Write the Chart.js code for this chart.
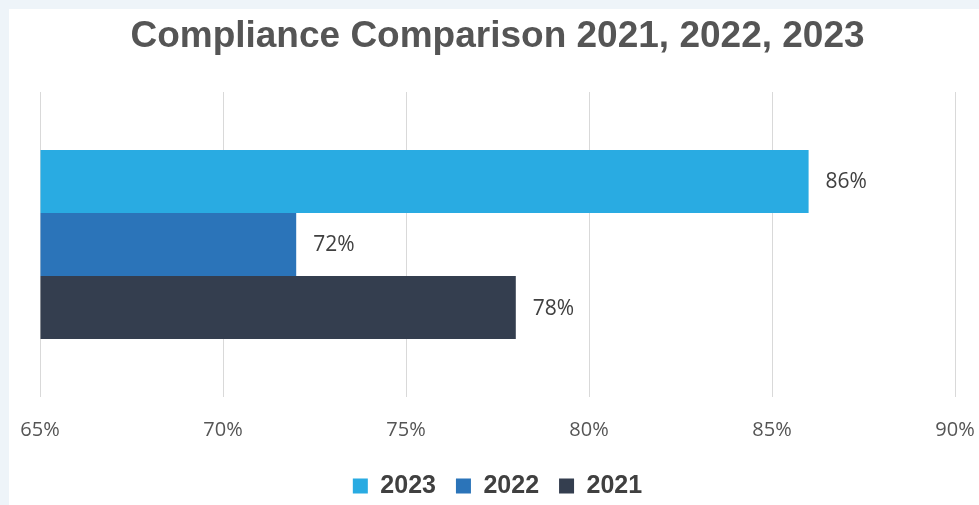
<!DOCTYPE html>
<html>
<head>
<meta charset="utf-8">
<script src="https://cdn.jsdelivr.net/npm/chart.js@4.4.1/dist/chart.umd.min.js"></script>
<style>
  html, body { margin: 0; padding: 0; width: 979px; height: 505px; overflow: hidden; background: #eef4f9; }
  #card { position: absolute; left: 9px; top: 9px; right: 0; bottom: 0; background: #ffffff; }
  #wrap { position: absolute; left: 0; top: 0; width: 979px; height: 505px; }
</style>
</head>
<body>
<div id="card"></div>
<div id="wrap"><canvas id="chart" width="979" height="505"></canvas></div>
<script>
// Compliance rates per year (percent)
const categories = ['Compliance'];
const seriesNames = ['2023', '2022', '2021'];
const values2023 = [86];
const values2022 = [72];
const values2021 = [78];
const tickMin = 65;
const tickMax = 90;
const tickStep = 5;

const colors = ['#29abe2', '#2b74b9', '#343e4f'];

// Writes each bar's value just past its end
const valueLabels = {
  id: 'valueLabels',
  afterDatasetsDraw(chart) {
    const ctx = chart.ctx;
    ctx.save();
    ctx.font = '21px "Open Sans", sans-serif';
    ctx.fillStyle = '#404040';
    ctx.textAlign = 'left';
    ctx.textBaseline = 'middle';
    chart.data.datasets.forEach((ds, i) => {
      const meta = chart.getDatasetMeta(i);
      meta.data.forEach((bar, j) => {
        ctx.fillText(ds.data[j] + '%', bar.x + 17, bar.y + 1);
      });
    });
    ctx.restore();
  }
};

new Chart(document.getElementById('chart'), {
  type: 'bar',
  data: {
    labels: categories,
    datasets: [
      { label: seriesNames[0], data: values2023, backgroundColor: colors[0] },
      { label: seriesNames[1], data: values2022, backgroundColor: colors[1] },
      { label: seriesNames[2], data: values2021, backgroundColor: colors[2] }
    ]
  },
  options: {
    indexAxis: 'y',
    responsive: false,
    animation: false,
    base: tickMin,
    categoryPercentage: 0.62,
    barPercentage: 1.0,
    layout: { padding: { left: 40, right: 24, top: 0, bottom: -3.5 } },
    scales: {
      x: {
        min: tickMin,
        max: tickMax,
        border: { display: false },
        grid: { color: '#d9d9d9', lineWidth: 1, drawTicks: false },
        ticks: {
          stepSize: tickStep,
          padding: 21,
          color: '#555555',
          font: { family: '"Open Sans", sans-serif', size: 20 },
          callback: v => v + '%'
        },
        afterFit(scale) {
          scale.height = 56.5;
          scale.paddingLeft = 0;
          scale.paddingRight = 0;
        }
      },
      y: { display: false }
    },
    plugins: {
      title: {
        display: true,
        text: 'Compliance Comparison 2021, 2022, 2023',
        color: '#555555',
        font: { family: '"Liberation Sans", Arial, sans-serif', size: 37, weight: 'bold' },
        padding: { top: 14.8, bottom: 32.8 }
      },
      legend: {
        position: 'bottom',
        labels: {
          boxWidth: 15,
          boxHeight: 15,
          padding: 20,
          color: '#404040',
          font: { family: '"Liberation Sans", Arial, sans-serif', size: 25, weight: 'bold' }
        }
      },
      tooltip: { enabled: false }
    }
  },
  plugins: [valueLabels]
});
</script>
</body>
</html>
